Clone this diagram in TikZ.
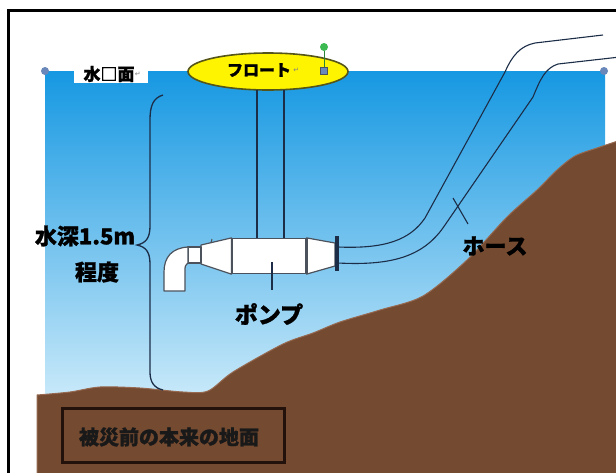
\documentclass[tikz,border=0pt]{standalone}
\usepackage{fontspec}
\newfontfamily\jp{Noto Sans CJK JP}[BoldFeatures={FakeBold=1.2}]
\newfontfamily\sym{DejaVu Sans}
\usetikzlibrary{shapes.geometric}
\definecolor{waterTop}{RGB}{22,152,226}
\definecolor{waterBot}{RGB}{205,235,250}
\definecolor{soil}{RGB}{116,74,48}
\definecolor{soilEdge}{RGB}{150,105,80}
\definecolor{floatYellow}{RGB}{255,244,0}
\definecolor{floatEdge}{RGB}{85,85,25}
\definecolor{handleBlue}{RGB}{105,135,185}
\definecolor{handleGreen}{RGB}{60,185,80}
\definecolor{hoseLine}{RGB}{28,45,72}
\definecolor{partEdge}{RGB}{75,82,92}
\definecolor{boxEdge}{RGB}{35,18,12}
\tikzset{
  jpfont/.style={font=\jp\bfseries\fontsize{#1}{#1}\selectfont},
  part/.style={draw=partEdge, fill=white, line width=1.2pt, line join=round},
  thinline/.style={draw=hoseLine, line width=1.1pt},
  mark glyph/.style={text=gray, font=\sym\fontsize{7}{7}\selectfont, inner sep=0pt},
}
\begin{document}
\begin{tikzpicture}[x=1pt,y=-1pt]
\useasboundingbox (0,0) rectangle (616,472);
\fill[white] (0,0) rectangle (616,472);
\begin{scope}
\clip (0,0) rectangle (616,472);

% water body
\shade[top color=waterTop, bottom color=waterBot] (45,71) rectangle (605,405);

% ground profile
\fill[soil, draw=soilEdge, line width=1pt]
  plot[smooth, tension=0.5] coordinates {(37,395) (70,392) (100,387) (140,388) (183,392) (208,391)
    (233,372) (283,344) (313,333) (340,322) (380,310) (423,296) (467,260)
    (507,217) (537,190) (557,170) (575,156) (597,148) (618,141)}
  -- (618,474) -- (37,474) -- cycle;

% outer frame
\draw[line width=3pt] (8,480) -- (8,10) -- (620,10);
\end{scope}

% selection handles of the water rectangle
\fill[handleBlue] (45,71) circle (4pt);
\fill[handleBlue] (604,71) circle (4pt);

% water surface label
\fill[white] (74,65) rectangle (148,83);
\node[jpfont=17, inner sep=0pt] (surf) at (109,74) {水□面};
\node[mark glyph, anchor=west] (surfmark) at (surf.east) {↵};

% float
\node[ellipse, draw=floatEdge, line width=1.6pt, fill=floatYellow,
      minimum width=160pt, minimum height=37pt, inner sep=0pt] (float) at (268,71.5) {};
\node[jpfont=16, inner sep=0pt] (floatlbl) at (259,70) {フロート};
\node[mark glyph, anchor=west] (floatmark) at ([xshift=2pt]floatlbl.east) {↵};
\node[circle, fill=handleGreen, minimum size=8pt, inner sep=0pt] (rot) at (324,47) {};
\node[draw=partEdge, fill=handleBlue, minimum size=7pt, inner sep=0pt] (sq) at (324,71) {};
\draw[handleGreen!70!black, line width=0.8pt] (rot) -- (sq);

% pump
\node[part, minimum width=74pt, minimum height=35pt, inner sep=0pt] (body) at (269,256) {};
\draw[part] (201,245) -- (body.north west) -- (body.south west) -- (201,264) -- cycle;
\draw[part] (body.north east) -- (335,243) -- (335,266) -- (body.south east) -- cycle;
\draw[part] (188,247) rectangle (201,263);
\draw[part] (188,247) .. controls (172,248) and (164,257) .. (164,272) -- (164,291)
  -- (185,291) -- (185,271) .. controls (185,266) .. (188,263) -- cycle;
\draw[partEdge, line width=1pt] (211,243) -- (212,239);
\draw[line width=1.8pt, partEdge] (body.north west) -- (body.south west);
\draw[line width=1.8pt, partEdge] (body.north east) -- (body.south east);
\coordinate (flTop) at (337,236);
\coordinate (flBot) at (337,271);
\draw[line width=3.2pt, hoseLine] (flTop) -- (flBot);

% float lines down to the pump
\coordinate (fa) at (257,89.5);
\coordinate (fb) at (284,89.5);
\draw[thinline] (fa) -- (fa |- body.north);
\draw[thinline] (fb) -- (fb |- body.north);

% hose
\coordinate (hA) at (338,247);
\coordinate (hB) at (338,263);
\coordinate (hAend) at (603,35);
\coordinate (hBend) at (620,57);
\draw[thinline] (hA) .. controls (385,249) and (410,240) .. (425,218) -- (505,72)
  .. controls (512,56) and (520,46) .. (535,43) -- (hAend);
\draw[thinline] (hB) .. controls (395,266) and (425,255) .. (445,225) -- (533,97)
  .. controls (540,80) and (545,68) .. (558,64) -- (hBend);

% depth brace
\coordinate (brTop) at (163,95);
\coordinate (brBot) at (163,390);
\draw[hoseLine, line width=1.3pt] (brTop) .. controls (153,98) and (150,106) .. (150,120) -- (150,226)
  .. controls (150,238) and (146,243) .. (137,245)
  .. controls (146,247) and (150,252) .. (150,264) -- (150,372)
  .. controls (150,382) and (154,388) .. (brBot);
\node[jpfont=22, inner sep=0pt] (depth) at (85,236) {水深1.5m};
\node[jpfont=22, inner sep=0pt] (about) at (97,272) {程度};

% pump label and pointer
\node[jpfont=23, inner sep=0pt] (pumplbl) at (269,314) {ポンプ};
\coordinate (pp) at (272,262);
\coordinate (ppEnd) at (272,290);
\draw[thinline] (pp) -- (ppEnd);

% hose label and pointer
\node[jpfont=22, inner sep=0pt] (hoselbl) at (495,246) {ホース};
\coordinate (hp) at (453,198);
\coordinate (hpEnd) at (468,224);
\draw[thinline] (hp) -- (hpEnd);

% original ground level note
\node[draw=boxEdge, line width=3pt, fill=soil, minimum width=222pt, minimum height=54pt,
      inner sep=0pt] (groundbox) at (173,435) {};
\node[jpfont=20, inner sep=0pt, text=black!90] (groundlbl) at (169,437) {被災前の本来の地面};
\end{tikzpicture}
\end{document}
